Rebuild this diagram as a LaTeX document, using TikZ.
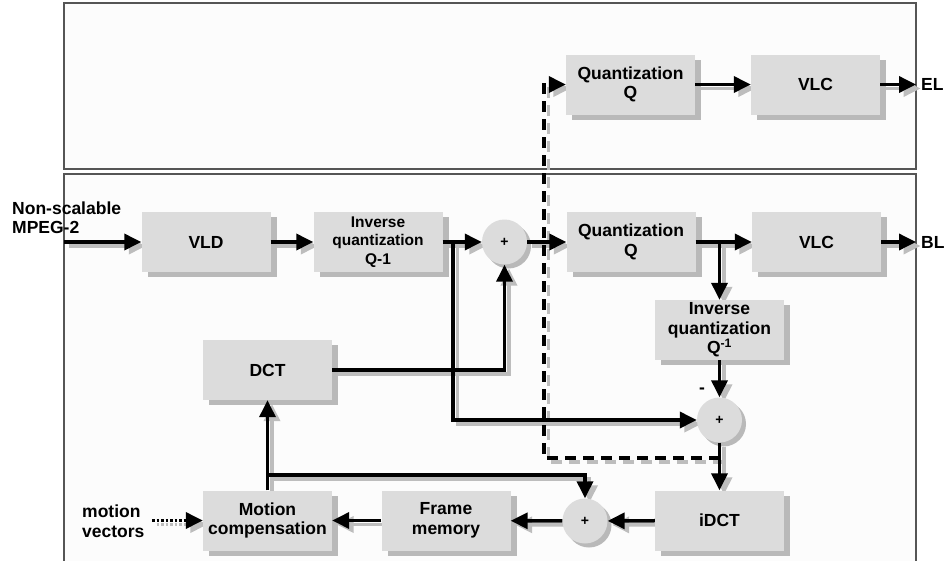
\documentclass[tikz,border=0pt]{standalone}
\usepackage{fontspec}
\setmainfont{Liberation Sans}
\usetikzlibrary{arrows.meta,shadows}

\definecolor{boxfill}{HTML}{DCDCDC}
\definecolor{boxshade}{HTML}{B9B9B9}
\definecolor{lineshade}{HTML}{BDBDBD}
\definecolor{panelfill}{HTML}{FCFCFC}
\definecolor{panelline}{HTML}{555555}

\newcommand\keeptext[1]{#1}
\newcommand\droptext[1]{}

% connector end points and branch points (#1: name prefix)
\newcommand\placepoints[1]{%
  \coordinate (#1inB)   at (64,242);
  \coordinate (#1outB)  at (916,242);
  \coordinate (#1outT)  at (916,84.5);
  \coordinate (#1tapA)  at (453,242);
  \coordinate (#1tapB)  at (719.5,242);
  \coordinate (#1tapC)  at (267.5,475);
  \coordinate (#1tapD)  at (719.5,458);
  \coordinate (#1turnD) at (544,458);
  \coordinate (#1mv)    at (152,520.5);
}

% blocks and adders (#1: name prefix, #2: \keeptext or \droptext)
\newcommand\placeblocks[2]{%
  % enhancement layer
  \node[block] (#1qt)   at (630.5,84.5) {#2{Quantization\\Q}};
  \node[block] (#1vlct) at (815.5,84.5) {#2{VLC}};
  % base layer, main row
  \node[block] (#1vld)  at (206,242) {#2{VLD}};
  \node[block, small] (#1iq1) at (378,242) {#2{Inverse\\quantization\\Q-1}};
  \node[adder] (#1sum1) at (504.5,242) {#2{+}};
  \node[block] (#1qb)   at (631,242) {#2{Quantization\\Q}};
  \node[block] (#1vlcb) at (816.5,242) {#2{VLC}};
  % base layer, reconstruction loop
  \node[block] (#1iq2)  at (719.5,330) {#2{Inverse\\quantization\\Q\textsuperscript{-1}}};
  \node[adder] (#1sum2) at (719.5,420) {#2{+}};
  \node[block] (#1idct) at (719.5,520.5) {#2{iDCT}};
  \node[adder] (#1sum3) at (585,521) {#2{+}};
  \node[block] (#1fm)   at (446,520.5) {#2{Frame\\memory}};
  \node[block] (#1mc)   at (267.5,520.5) {#2{Motion\\compensation}};
  \node[block] (#1dct)  at (267.5,370) {#2{DCT}};
}

% signal paths (#1: name prefix, #2: colour)
\newcommand\drawlinks[2]{%
  \draw[link, draw=#2] (#1inB) -- (#1vld);
  \draw[link, draw=#2] (#1vld) -- (#1iq1);
  \draw[link, draw=#2] (#1iq1) -- (#1sum1);
  \draw[link, draw=#2] (#1tapA) |- (#1sum2);
  \draw[link, draw=#2] (#1dct) -| (#1sum1);
  \draw[link, draw=#2] (#1sum1) -- (#1qb);
  \draw[link, draw=#2] (#1qb) -- (#1vlcb);
  \draw[link, draw=#2] (#1tapB) -- (#1iq2);
  \draw[link, draw=#2] (#1vlcb) -- (#1outB);
  \draw[link, draw=#2] (#1iq2) -- (#1sum2);
  \draw[link, draw=#2] (#1sum2) -- (#1idct);
  \draw[link, draw=#2] (#1idct) -- (#1sum3);
  \draw[link, draw=#2] (#1sum3) -- (#1fm);
  \draw[link, draw=#2] (#1fm) -- (#1mc);
  \draw[link, draw=#2] (#1mc) -- (#1dct);
  \draw[link, draw=#2] (#1tapC) -| (#1sum3);
  \draw[link, draw=#2] (#1qt) -- (#1vlct);
  \draw[link, draw=#2] (#1vlct) -- (#1outT);
  \draw[dashlink, draw=#2] (#1tapD) -- (#1turnD) |- (#1qt);
  \draw[dotlink, draw=#2] (#1mv) -- (#1mc);
}

\begin{document}
\begin{tikzpicture}[x=1pt,y=-1pt,
  every node/.style={font=\fontsize{17.5}{19.5}\selectfont\bfseries, align=center},
  blockshape/.style={inner sep=0pt, minimum width=129pt, minimum height=60pt},
  addershape/.style={circle, inner sep=0pt, minimum size=45pt,
    font=\fontsize{14}{14}\selectfont\bfseries},
  block/.style={blockshape, fill=boxfill,
    general shadow={fill=boxshade, shadow xshift=6pt, shadow yshift=-5pt}},
  adder/.style={addershape, fill=boxfill,
    general shadow={fill=boxshade, shadow xshift=4pt, shadow yshift=-4pt}},
  small/.style={font=\fontsize{15.5}{18.5}\selectfont\bfseries},
  label/.style={inner sep=0pt},
  link/.style={line width=3.5pt, -{Triangle[length=17pt,width=16pt]}},
  dashlink/.style={link, dash pattern=on 11pt off 7pt},
  dotlink/.style={link, dash pattern=on 2.5pt off 2pt},
]
\useasboundingbox (0,0) rectangle (948,560);

% the two layer panels
\draw[panelline, line width=1.2pt, fill=panelfill] (64,3) rectangle (916,169);
\draw[panelline, line width=1.2pt, fill=panelfill] (64,174) rectangle (916,580);

% grey shades of the connectors: the network moved down and right,
% routed around empty copies of the blocks
\begin{scope}[shift={(4.5,4)}, block/.style={blockshape}, adder/.style={addershape}]
  \placepoints{s-}
  \placeblocks{s-}{\droptext}
  \drawlinks{s-}{lineshade}
\end{scope}

% visible blocks and black connectors
\placepoints{}
\placeblocks{}{\keeptext}
\drawlinks{}{black}

% outside labels
\node[label, anchor=west, align=left] (src) at (12,217.5) {Non-scalable\\MPEG-2};
\node[label, anchor=west, align=left] (mvtext) at (82,521) {motion\\vectors};
\node[label, anchor=west] (elt) at (921,84.5) {EL};
\node[label, anchor=west] (blt) at (921,242) {BL};
\node[label] (minus) at (702,391) {-};
\end{tikzpicture}
\end{document}
